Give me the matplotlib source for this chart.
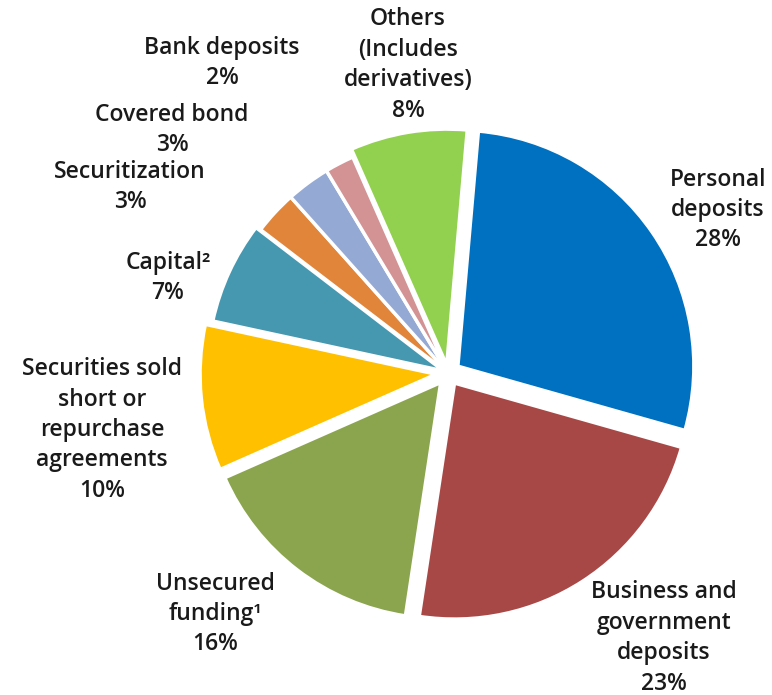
import matplotlib
matplotlib.use("Agg")
import matplotlib.pyplot as plt

# funding mix, clockwise from the top
labels = ["Personal\ndeposits", "Business and\ngovernment\ndeposits", "Unsecured\nfunding¹",
          "Securities sold\nshort or\nrepurchase\nagreements", "Capital²", "Securitization",
          "Covered bond", "Bank deposits", "Others\n(Includes\nderivatives)"]
shares = [28, 23, 16, 10, 7, 3, 3, 2, 8]
colors = ["#0070C0", "#A84846", "#8BA54E", "#FFC000", "#4698B0", "#E0853A",
          "#94A9D3", "#D39294", "#92D050"]
# offsets in pixels (axes run in pixel units)
explode = [12, 12, 12, 12, 5, 0, 0, 0, 8]

# where each label block sits (figure pixels, y measured from the top)
label_xy = [(718, 210), (664, 638), (215, 614), (102, 430), (168, 278),
            (130, 187), (172, 130), (222, 63), (408, 65)]

W, H = 772, 695
fig = plt.figure(figsize=(W / 100, H / 100), dpi=100)
ax = fig.add_axes([0, 0, 1, 1])

ax.pie(shares, colors=colors, explode=explode, startangle=85, counterclock=False,
       center=(448, H - 373), radius=236, frame=True,
       wedgeprops=dict(edgecolor="white", linewidth=2.5))
ax.set_xlim(0, W)
ax.set_ylim(0, H)
ax.set_aspect("equal")
ax.axis("off")

for lab, val, (x, y) in zip(labels, shares, label_xy):
    ax.text(x, H - y, f"{lab}\n{val}%", ha="center", va="center", fontsize=16.5,
            family=["Open Sans", "DejaVu Sans"], fontweight="semibold",
            color="#1a1a1a", linespacing=1.36)

fig.savefig("out.png", dpi=100)
